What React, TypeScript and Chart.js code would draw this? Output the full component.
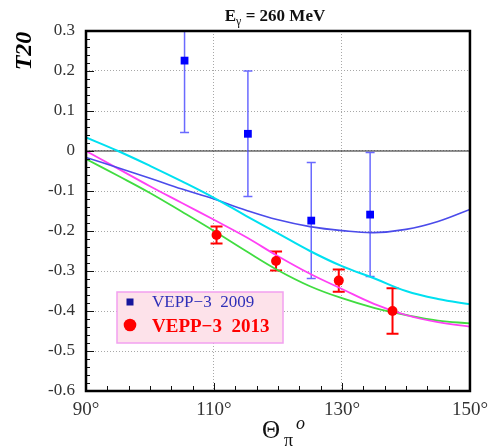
import React, { useEffect, useRef } from "react";
import { Chart, registerables } from "chart.js";

Chart.register(...registerables);

// ---------- data ----------
const xTickValues = [90, 110, 130, 150];
const yMin = -0.6;
const yMax = 0.3;

const curveAngles = [90, 95, 100, 105, 110, 115, 120, 125, 130, 135, 140, 145, 150];
const cyanCurve = [0.034, 0.0, -0.037, -0.076, -0.117, -0.162, -0.206, -0.25, -0.288, -0.318, -0.35, -0.37, -0.383];
const blueCurve = [-0.016, -0.042, -0.068, -0.095, -0.12, -0.148, -0.172, -0.189, -0.199, -0.204, -0.196, -0.176, -0.146];
const magentaCurve = [0.0, -0.044, -0.088, -0.13, -0.172, -0.215, -0.263, -0.307, -0.345, -0.382, -0.41, -0.428, -0.439];
const greenCurve = [-0.02, -0.062, -0.105, -0.152, -0.2, -0.25, -0.298, -0.338, -0.368, -0.392, -0.41, -0.424, -0.431];

const vepp2009Angles = [105.4, 115.3, 125.2, 134.4];
const vepp2009Values = [0.226, 0.043, -0.174, -0.159];
const vepp2009Errors = [0.18, 0.157, 0.145, 0.155];

const vepp2013Angles = [110.4, 119.7, 129.5, 137.9];
const vepp2013Values = [-0.21, -0.275, -0.324, -0.4];
const vepp2013Errors = [0.021, 0.024, 0.028, 0.057];

const legendLabels = ["VEPP\u22123  2009", "VEPP\u22123  2013"];
const titleMain = "E";
const titleSub = "\u03b3";
const titleRest = " = 260 MeV";
const yTitle = "T20";

const SERIF = '"Liberation Serif", "Times New Roman", serif';

const toPoints = (xs: number[], ys: number[]) => xs.map((x, i) => ({ x, y: ys[i] }));

function drawErrorBars(ctx: CanvasRenderingContext2D, chart: any, xs: number[], ys: number[], es: number[], color: string, lw: number, cap: number) {
  const xs_ = chart.scales.x;
  const ys_ = chart.scales.y;
  const a = chart.chartArea;
  ctx.save();
  ctx.beginPath();
  ctx.rect(a.left, a.top, a.right - a.left, a.bottom - a.top);
  ctx.clip();
  ctx.strokeStyle = color;
  ctx.lineWidth = lw;
  for (let i = 0; i < xs.length; i++) {
    const px = xs_.getPixelForValue(xs[i]);
    const top = ys_.getPixelForValue(ys[i] + es[i]);
    const bot = ys_.getPixelForValue(ys[i] - es[i]);
    ctx.beginPath();
    ctx.moveTo(px, top);
    ctx.lineTo(px, bot);
    ctx.moveTo(px - cap, top);
    ctx.lineTo(px + cap, top);
    ctx.moveTo(px - cap, bot);
    ctx.lineTo(px + cap, bot);
    ctx.stroke();
  }
  ctx.restore();
}

const decorPlugin = {
  id: "decor",
  beforeDatasetsDraw(chart: any) {
    const ctx = chart.ctx as CanvasRenderingContext2D;
    const a = chart.chartArea;
    const y0 = chart.scales.y.getPixelForValue(0);
    ctx.save();
    ctx.strokeStyle = "#222";
    ctx.lineWidth = 1.2;
    ctx.beginPath();
    ctx.moveTo(a.left, y0);
    ctx.lineTo(a.right, y0);
    ctx.stroke();
    ctx.restore();
    drawErrorBars(ctx, chart, vepp2009Angles, vepp2009Values, vepp2009Errors, "rgba(80,80,255,0.85)", 1.5, 4.5);
    drawErrorBars(ctx, chart, vepp2013Angles, vepp2013Values, vepp2013Errors, "#ff0000", 2, 6);
  },
  afterDatasetsDraw(chart: any) {
    const ctx = chart.ctx as CanvasRenderingContext2D;
    const a = chart.chartArea;
    const xs = chart.scales.x;
    const ys = chart.scales.y;
    ctx.save();
    ctx.strokeStyle = "#111";
    ctx.lineWidth = 1;
    // y ticks
    for (let k = 0; k <= 45; k++) {
      const v = yMin + k * 0.02;
      const py = Math.round(ys.getPixelForValue(v)) + 0.5;
      const len = k % 5 === 0 ? 8 : 4;
      ctx.beginPath();
      ctx.moveTo(a.left, py);
      ctx.lineTo(a.left + len, py);
      ctx.stroke();
    }
    // x ticks
    for (let k = 0; k <= 18; k++) {
      const v = 90 + (k * 20) / 6;
      const px = Math.round(xs.getPixelForValue(v)) + 0.5;
      const len = k % 6 === 0 ? 8 : 5;
      ctx.beginPath();
      ctx.moveTo(px, a.bottom);
      ctx.lineTo(px, a.bottom - len);
      ctx.stroke();
    }
    // frame
    ctx.lineWidth = 2.5;
    ctx.strokeStyle = "#000";
    ctx.strokeRect(a.left, a.top, a.right - a.left, a.bottom - a.top);
    ctx.restore();
  },
  afterDraw(chart: any) {
    const ctx = chart.ctx as CanvasRenderingContext2D;
    ctx.save();
    // title
    ctx.fillStyle = "#111";
    ctx.textBaseline = "alphabetic";
    ctx.textAlign = "left";
    const fMain = `bold 17px ${SERIF}`;
    const fSub = `12px ${SERIF}`;
    ctx.font = fMain;
    const wE = ctx.measureText(titleMain).width;
    const wR = ctx.measureText(titleRest).width;
    ctx.font = fSub;
    const wS = ctx.measureText(titleSub).width;
    let tx = 275 - (wE + wS + wR) / 2;
    ctx.font = fMain;
    ctx.fillText(titleMain, tx, 21);
    tx += wE;
    ctx.font = fSub;
    ctx.fillText(titleSub, tx, 25);
    tx += wS;
    ctx.font = fMain;
    ctx.fillText(titleRest, tx, 21);

    // y title
    ctx.save();
    ctx.translate(25, 51);
    ctx.rotate(-Math.PI / 2);
    ctx.font = `bold italic 24px ${SERIF}`;
    ctx.textAlign = "center";
    ctx.textBaseline = "middle";
    ctx.fillStyle = "#000";
    ctx.fillText(yTitle, 0, 0);
    ctx.restore();

    // x title
    ctx.fillStyle = "#111";
    ctx.textAlign = "left";
    ctx.font = `25px ${SERIF}`;
    ctx.fillText("\u0398", 262, 438);
    ctx.font = `18px ${SERIF}`;
    ctx.fillText("\u03c0", 284, 446);
    ctx.font = `italic 18px ${SERIF}`;
    ctx.fillText("o", 296, 429);

    // legend
    ctx.fillStyle = "#fde2ea";
    ctx.fillRect(117, 292, 166, 51);
    ctx.strokeStyle = "#f2a0f0";
    ctx.lineWidth = 1.5;
    ctx.strokeRect(117, 292, 166, 51);
    ctx.fillStyle = "#16169c";
    ctx.fillRect(126.5, 298.5, 7, 7);
    ctx.fillStyle = "#3030b8";
    ctx.font = `17px ${SERIF}`;
    ctx.fillText(legendLabels[0], 152, 307);
    ctx.fillStyle = "#ff0000";
    ctx.beginPath();
    ctx.arc(130, 325, 6.3, 0, Math.PI * 2);
    ctx.fill();
    ctx.font = `bold 19px ${SERIF}`;
    ctx.fillText(legendLabels[1], 152, 332);
    ctx.restore();
  },
};

export default function App() {
  const ref = useRef<HTMLCanvasElement>(null);
  useEffect(() => {
    if (!ref.current) return;
    const lineDs = (label: string, ys: number[], color: string, width: number) => ({
      type: "line" as const,
      label,
      data: toPoints(curveAngles, ys),
      borderColor: color,
      borderWidth: width,
      pointRadius: 0,
      fill: false,
      tension: 0.4,
      order: 2,
    });
    const chart = new Chart(ref.current, {
      type: "scatter",
      data: {
        datasets: [
          lineDs("cyan", cyanCurve, "#00e0f0", 2),
          lineDs("blue", blueCurve, "#4b4bea", 1.6),
          lineDs("magenta", magentaCurve, "#ff40f4", 1.8),
          lineDs("green", greenCurve, "#40dc40", 1.8),
          {
            type: "scatter",
            label: legendLabels[0],
            data: toPoints(vepp2009Angles, vepp2009Values),
            pointStyle: "rect",
            pointRadius: 5.5,
            backgroundColor: "#0000ff",
            borderColor: "#0000ff",
            borderWidth: 0,
            order: 1,
          },
          {
            type: "scatter",
            label: legendLabels[1],
            data: toPoints(vepp2013Angles, vepp2013Values),
            pointStyle: "circle",
            pointRadius: 5,
            backgroundColor: "#ff0000",
            borderColor: "#ff0000",
            borderWidth: 0,
            order: 0,
          },
        ] as any,
      },
      options: {
        responsive: false,
        animation: false,
        devicePixelRatio: 1,
        layout: { padding: { top: 31, right: 23, left: 0, bottom: 0 } },
        plugins: { legend: { display: false }, tooltip: { enabled: false }, title: { display: false } },
        scales: {
          x: {
            type: "linear",
            min: 90,
            max: 150,
            afterBuildTicks: (s: any) => {
              s.ticks = xTickValues.map((v) => ({ value: v }));
            },
            afterFit: (s: any) => {
              s.height = 56;
            },
            ticks: {
              callback: (v: any) => `${v}\u00b0`,
              font: { family: SERIF, size: 19 },
              color: "#333",
              padding: 8,
              maxRotation: 0,
              autoSkip: false,
            },
            grid: {
              drawTicks: false,
              color: "#a8a8a8",
              lineWidth: 1,
            },
            border: { display: false, dash: [1, 2] },
          },
          y: {
            type: "linear",
            min: yMin,
            max: yMax,
            afterFit: (s: any) => {
              s.width = 86;
            },
            ticks: {
              stepSize: 0.1,
              callback: (v: any) => {
                const n = Math.round(Number(v) * 10) / 10;
                return n === 0 ? "0" : n.toFixed(1);
              },
              font: { family: SERIF, size: 17 },
              color: "#333",
              padding: 11,
            },
            grid: {
              drawTicks: false,
              color: "#a8a8a8",
              lineWidth: 1,
            },
            border: { display: false, dash: [1, 2] },
          },
        },
      },
      plugins: [decorPlugin],
    } as any);
    return () => chart.destroy();
  }, []);
  return (
    <div style={{ position: "fixed", left: 0, top: 0, width: 496, height: 447, background: "#fff" }}>
      <canvas ref={ref} width={496} height={447} style={{ display: "block", width: 496, height: 447 }} />
    </div>
  );
}
